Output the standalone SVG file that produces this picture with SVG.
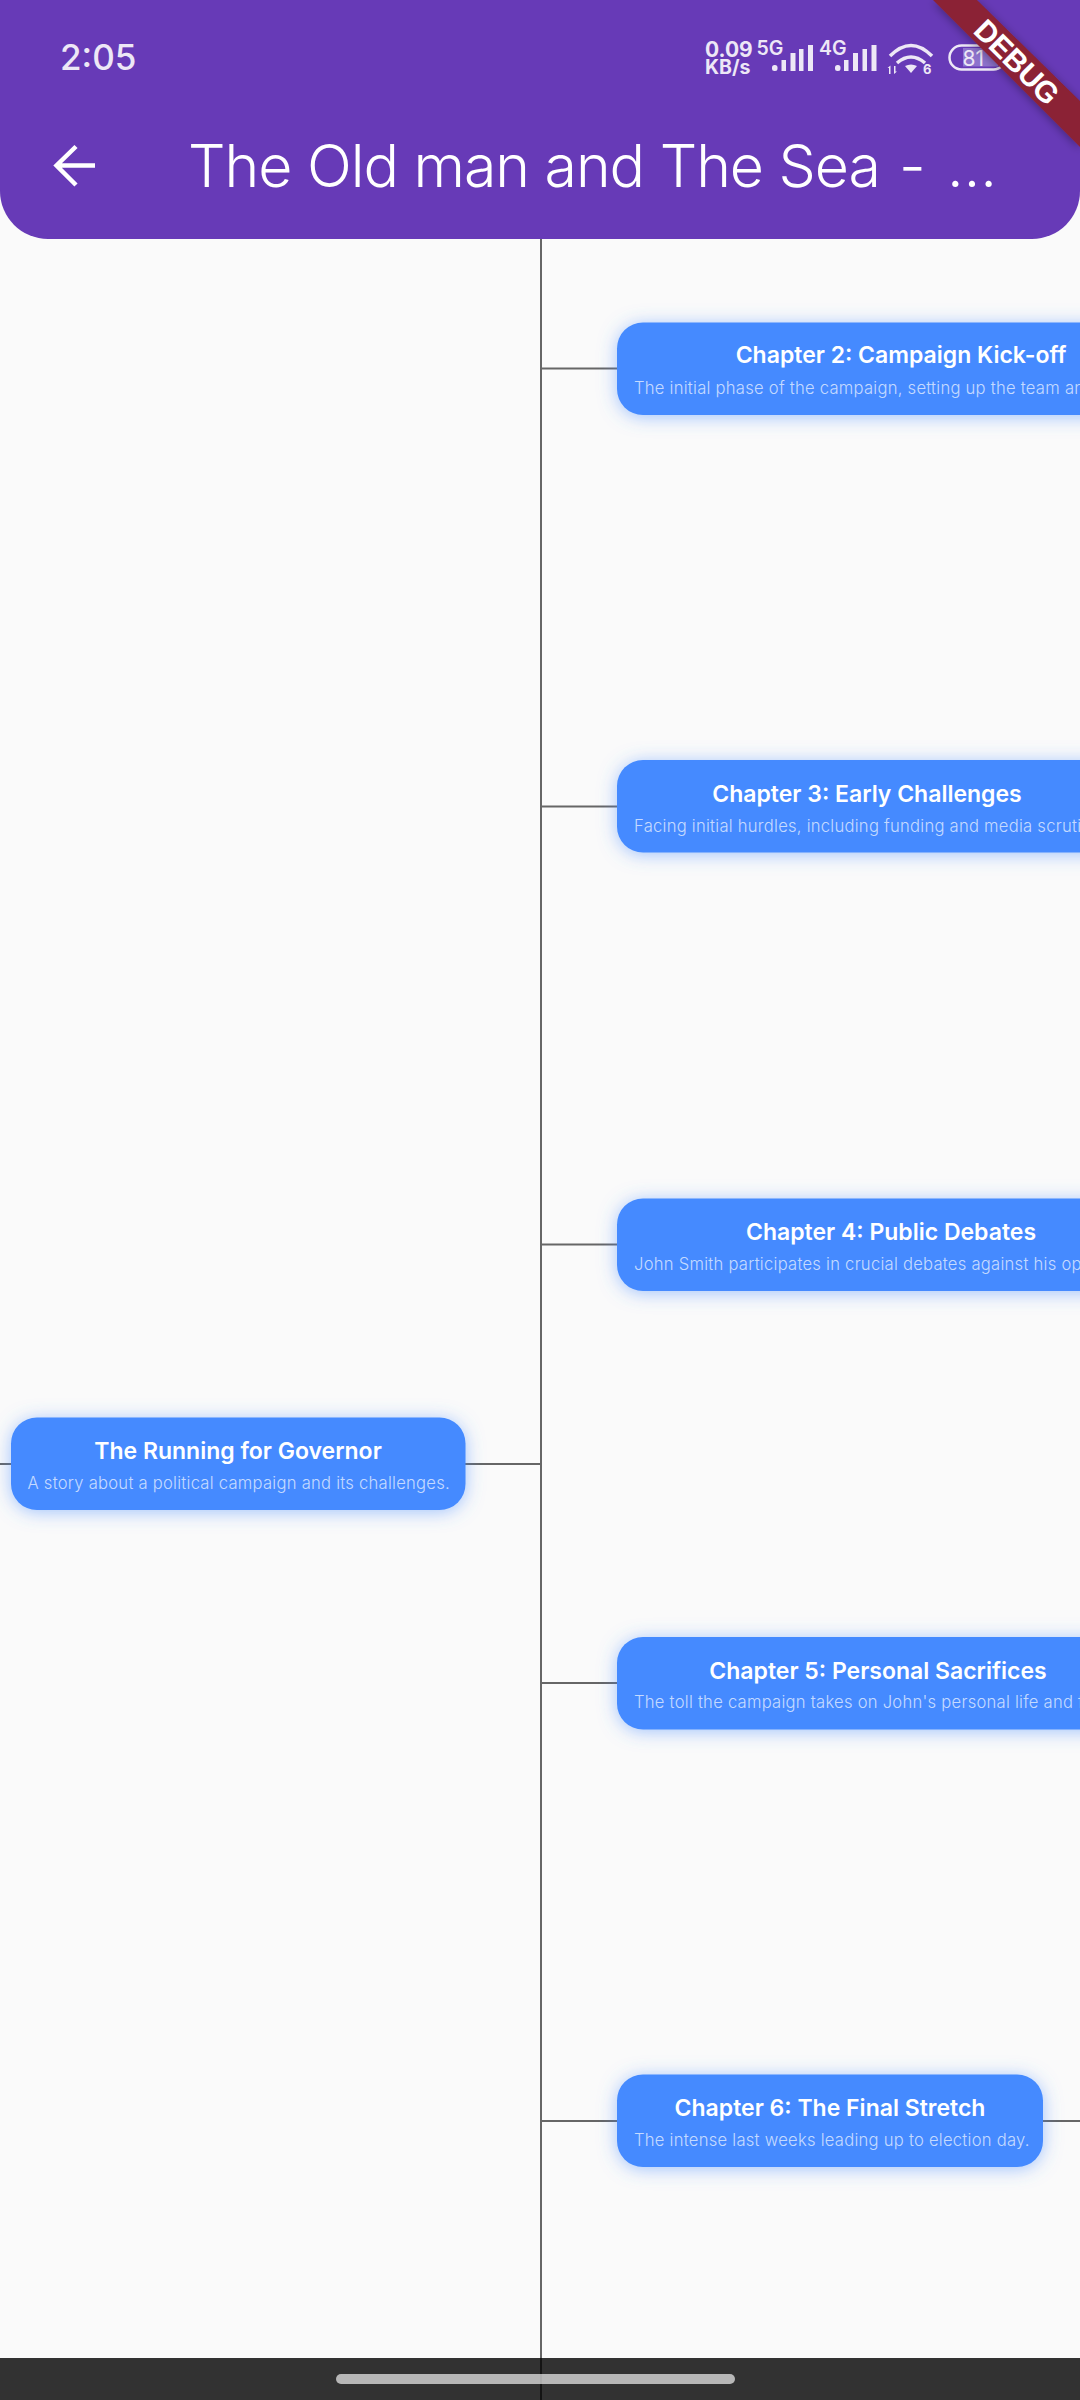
<svg xmlns="http://www.w3.org/2000/svg" width="1080" height="2400" viewBox="0 0 1080 2400">
<style>
text{font-family:Inter,"Noto Sans","Liberation Sans",sans-serif}
.card{fill:#448aff;filter:url(#glow)}
.t{font-size:23px;font-weight:600;fill:#fff;text-anchor:middle}
.s{font-size:16.6px;font-weight:300;fill:#fff;fill-opacity:.7;letter-spacing:.25px}
.c{stroke:#666;stroke-width:2;fill:none}
.st{fill:#ede7f6;font-weight:700}
.bar{fill:#ede7f6}
</style>
<defs>
<filter id="glow" x="-10%" y="-40%" width="120%" height="180%"><feDropShadow dx="0" dy="2" stdDeviation="9" flood-color="#448aff" flood-opacity=".5"/></filter>
<filter id="rs" x="-10%" y="-10%" width="120%" height="120%"><feDropShadow dx="0" dy="2" stdDeviation="5" flood-color="#000" flood-opacity=".35"/></filter>
</defs>
<rect width="1080" height="2400" fill="#fafafa"/>
<g id="connectors">
<path class="c" d="M541 230V2400"/>
<path class="c" d="M0 1464H11M465 1464H541M541 368.500H617M541 806.500H617M541 1244.500H617M541 1683H617M541 2121H1080"/>
</g>
<g id="node-root"><rect class="card" x="11" y="1417.500" width="454.500" height="92.500" rx="26"/>
<text class="t" x="238" y="1459">The Running for Governor</text><text class="s" x="27.500" y="1489">A story about a political campaign and its challenges.</text></g>
<g id="node-ch2"><rect class="card" x="617" y="322.500" width="520" height="92.500" rx="26"/>
<text class="t" x="901" y="363">Chapter 2: Campaign Kick-off</text><text class="s" x="634" y="394">The initial phase of the campaign, setting up the team and strategy.</text></g>
<g id="node-ch3"><rect class="card" x="617" y="760" width="520" height="92.500" rx="26"/>
<text class="t" x="867" y="801.500">Chapter 3: Early Challenges</text><text class="s" x="634" y="832">Facing initial hurdles, including funding and media scrutiny.</text></g>
<g id="node-ch4"><rect class="card" x="617" y="1198.500" width="520" height="92.500" rx="26"/>
<text class="t" x="891" y="1240">Chapter 4: Public Debates</text><text class="s" x="634" y="1270">John Smith participates in crucial debates against his opponents.</text></g>
<g id="node-ch5"><rect class="card" x="617" y="1637" width="520" height="92.500" rx="26"/>
<text class="t" x="878" y="1678.500">Chapter 5: Personal Sacrifices</text><text class="s" x="634" y="1708">The toll the campaign takes on John's personal life and family.</text></g>
<g id="node-ch6"><rect class="card" x="617" y="2074.500" width="426" height="92.500" rx="26"/>
<text class="t" x="830" y="2116">Chapter 6: The Final Stretch</text><text class="s" x="634" y="2146">The intense last weeks leading up to election day.</text></g>
<g id="appbar">
<path d="M0 0H1080V191a48 48 0 0 1-48 48H48a48 48 0 0 1-48-48Z" fill="#673ab7"/>
<text x="60" y="70" fill="#ede7f6" style="font-size:35px;font-weight:500">2:05</text>
<path d="M95 165.500H58M76 146.500L56.500 165.500L76 185" fill="none" stroke="#fff" stroke-width="4.500"/>
<text y="186.500" fill="#fff" font-weight="300" style="font-size:59px"><tspan x="188" textLength="693" lengthAdjust="spacing">The Old man and The Sea</tspan> <tspan x="899">-</tspan> <tspan x="947">…</tspan></text>
</g>
<g id="statusbar">
<text class="st" x="705" y="56.500" style="font-size:21px">0.09</text>
<text class="st" x="705" y="74" style="font-size:19.500px">KB/s</text>
<text class="st" x="756.500" y="55" style="font-size:19.500px;font-weight:600">5G</text>
<text class="st" x="819" y="55" style="font-size:19.500px;font-weight:600">4G</text>
<g class="bar">
<rect x="772" y="65" width="5.500" height="6" rx="2.500"/><rect x="781.500" y="60" width="4.500" height="11"/><rect x="790.500" y="53" width="5" height="18"/><rect x="799" y="49" width="4.500" height="22"/><rect x="808" y="45" width="5" height="26"/>
<rect x="835" y="65" width="5.500" height="6" rx="2.500"/><rect x="844" y="60" width="4.500" height="11"/><rect x="853" y="53" width="5" height="18"/><rect x="862.500" y="49" width="4.500" height="22"/><rect x="871.500" y="45" width="5" height="26"/>
<path d="M905 66q6-3 12 0l-6 7Z"/><path d="M889 74v-6h-1.500l3-2.500v8.500ZM894 66v8l3-2.500h-1.500v-5.500Z"/>
</g>
<path d="M890 56q21-21 42 0M897 63q14-12 28 0" fill="none" stroke="#ede7f6" stroke-width="3.500"/>
<text class="st" x="923" y="74" style="font-size:13px">6</text>
<rect x="963" y="48" width="35" height="18.500" fill="#8e73cd"/>
<rect x="949.500" y="45.500" width="56" height="24" rx="12" fill="none" stroke="#ede7f6" stroke-width="2.500"/>
<text x="962.500" y="65.500" fill="#ede7f6" style="font-size:21px;font-weight:400">81</text>
</g>
<g id="debug-banner">
<path d="M933 0H977L1080 101V147Z" fill="#8b2036" filter="url(#rs)"/>
<text transform="translate(1017 62) rotate(45)" y="10.500" text-anchor="middle" fill="#fff" style="font-size:30px;font-weight:700;font-family:'Liberation Sans',sans-serif" textLength="106">DEBUG</text>
</g>
<g id="navbar">
<rect y="2358" width="1080" height="42" fill="#000" fill-opacity=".8"/>
<rect x="336" y="2374" width="399" height="10" rx="5" fill="#fff" fill-opacity=".65"/>
</g>
</svg>
